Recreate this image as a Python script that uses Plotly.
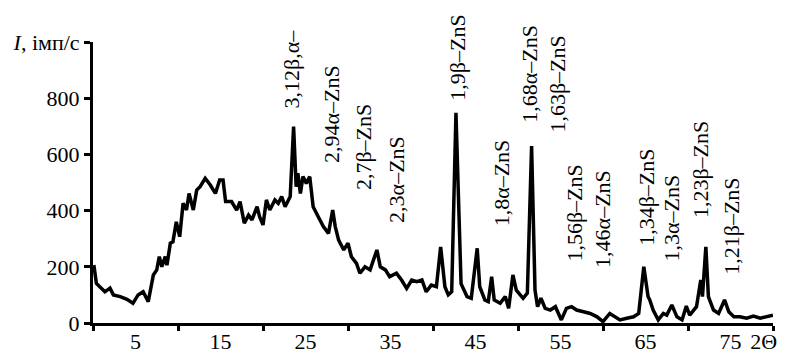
import plotly.graph_objects as go

two_theta = [0.1, 0.4, 0.8, 1.4, 2.0, 2.4, 3.2, 4.0, 4.7, 5.3, 5.9, 6.5, 7.1, 7.5, 7.8, 8.1,
             8.5, 8.7, 9.1, 9.4, 9.8, 10.2, 10.6, 11.0, 11.3, 11.8, 12.2, 12.6, 13.2, 13.8,
             14.4, 14.9, 15.3, 15.6, 16.3, 16.9, 17.3, 17.8, 18.3, 18.7, 19.3, 19.6, 20.0,
             20.4, 20.8, 21.4, 21.8, 22.2, 22.6, 23.2, 23.6, 23.9, 24.1, 24.4, 24.7, 25.1,
             25.5, 25.9, 26.5, 27.1, 27.7, 28.2, 28.5, 28.9, 29.5, 30.0, 30.4, 31.0, 31.4,
             32.0, 32.6, 33.4, 33.8, 34.4, 34.9, 35.7, 36.3, 36.9, 37.5, 38.1, 38.7, 39.2,
             39.8, 40.4, 40.9, 41.4, 41.8, 42.2, 42.7, 43.3, 44.0, 44.5, 45.2, 45.5, 46.1,
             46.5, 46.9, 47.2, 47.9, 48.5, 48.9, 49.4, 49.8, 50.2, 50.6, 51.1, 51.6, 52.0,
             52.3, 52.7, 53.2, 53.8, 54.4, 55.1, 55.7, 56.3, 56.9, 57.7, 58.5, 59.3, 60.0,
             60.8, 61.4, 62.0, 62.8, 63.6, 64.2, 64.8, 65.3, 65.5, 65.9, 66.5, 67.1, 67.5,
             68.1, 68.7, 69.3, 69.8, 70.2, 71.0, 71.5, 71.7, 72.1, 72.4, 73.0, 73.6, 74.3,
             74.8, 75.4, 76.1, 76.9, 77.7, 78.5, 79.3, 80.0]
intensity = [206, 141, 129, 111, 124, 100, 94, 84, 70, 100, 111, 76, 171, 189, 236, 200,
             236, 206, 284, 289, 360, 307, 426, 402, 461, 402, 473, 485, 515, 491,
             461, 509, 509, 432, 432, 402, 432, 355, 384, 367, 414, 378, 349,
             438, 402, 438, 426, 450, 414, 450, 699, 485, 533, 461, 521, 497,
             521, 414, 378, 343, 319, 402, 343, 295, 260, 284, 236, 212, 177,
             200, 189, 260, 200, 189, 165, 177, 153, 123, 153, 147, 153, 111,
             135, 129, 271, 129, 100, 111, 748, 140, 94, 88, 266, 129, 82,
             76, 165, 82, 70, 94, 52, 171, 117, 100, 88, 106, 630, 117,
             58, 88, 52, 46, 58, 11, 52, 58, 46, 40, 34, 22, 5,
             34, 22, 11, 17, 22, 34, 200, 94, 82, 46, 11, 34, 28,
             64, 22, 11, 60, 28, 58, 153, 94, 271, 94, 46, 34, 82,
             40, 22, 22, 17, 25, 17, 22, 28]

peak_labels = ["3,12β,α–", "2,94α–ZnS", "2,7β–ZnS", "2,3α–ZnS", "1,9β–ZnS", "1,8α–ZnS",
               "1,68α–ZnS", "1,63β–ZnS", "1,56β–ZnS", "1,46α–ZnS", "1,34β–ZnS",
               "1,3α–ZnS", "1,23β–ZnS", "1,21β–ZnS"]
peak_label_x = [23.4, 28.0, 31.8, 35.7, 42.9, 48.1, 51.4, 54.6, 56.7, 60.0, 65.1, 68.1, 71.5, 75.1]
peak_label_y = [758, 562, 467, 349, 783, 338, 705, 669, 213, 189, 267, 213, 367, 164]

x_label_vals = [5, 15, 25, 35, 45, 55, 65, 75, 78.9]
x_label_text = ["5", "15", "25", "35", "45", "55", "65", "75", "2Θ"]
x_tick_vals = [0, 10, 20, 30, 40, 50, 60, 70, 80]
y_tick_vals = [0, 200, 400, 600, 800, 1000]
y_tick_text = ["0", "200", "400", "600", "800", "<i>I</i>, імп/с"]

FONT = "Liberation Serif"

fig = go.Figure()
fig.add_trace(go.Scatter(x=two_theta, y=intensity, mode="lines",
                         line=dict(color="black", width=3.5), showlegend=False))

for t, px, py in zip(peak_labels, peak_label_x, peak_label_y):
    fig.add_annotation(x=px, y=py, text=t, textangle=-90, showarrow=False,
                       xanchor="center", yanchor="bottom",
                       font=dict(family=FONT, size=22, color="black"))

# page body has an 8px margin, so the figure is sized to end at the window edge
fig.update_layout(
    width=779, height=346,
    margin=dict(l=85, r=14, t=34, b=31),
    paper_bgcolor="white", plot_bgcolor="white",
    font=dict(family=FONT, size=22, color="black"),
)
fig.update_xaxes(range=[0, 80], showgrid=False, zeroline=False, automargin=False,
                 showline=True, linecolor="black", linewidth=3,
                 tickmode="array", tickvals=x_label_vals, ticktext=x_label_text,
                 ticks="", ticklabelstandoff=-3,
                 minor=dict(tickmode="array", tickvals=x_tick_vals, ticks="outside",
                            ticklen=5, tickwidth=3, tickcolor="black", showgrid=False))
fig.update_yaxes(range=[0, 1000], showgrid=False, zeroline=False, automargin=False,
                 showline=True, linecolor="black", linewidth=3,
                 tickmode="array", tickvals=y_tick_vals, ticktext=y_tick_text,
                 ticks="outside", ticklen=6, tickwidth=3, tickcolor="black")

fig.write_html("out.html")
